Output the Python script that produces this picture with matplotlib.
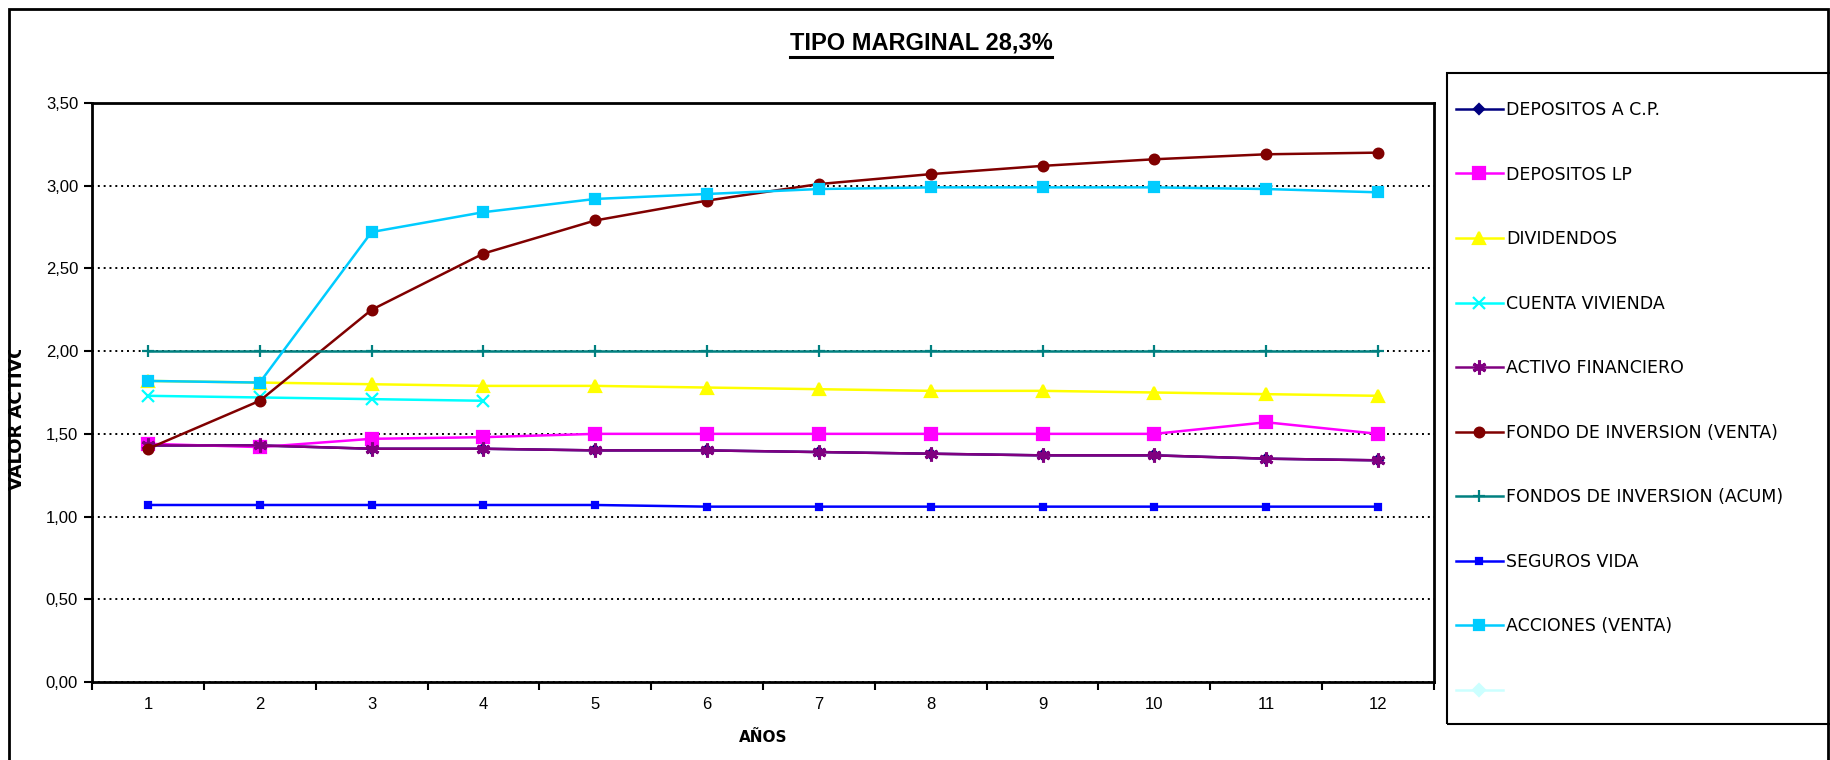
import matplotlib
matplotlib.use("Agg")
import matplotlib.pyplot as plt
from matplotlib.lines import Line2D
from matplotlib.patches import Rectangle
from matplotlib.transforms import Bbox

# -----------------------------
# Data
# -----------------------------
years = [1, 2, 3, 4, 5, 6, 7, 8, 9, 10, 11, 12]

depositos_cp = [1.43, 1.43, 1.41, 1.41, 1.40, 1.40, 1.39, 1.38, 1.37, 1.37, 1.35, 1.34]
depositos_lp = [1.44, 1.42, 1.47, 1.48, 1.50, 1.50, 1.50, 1.50, 1.50, 1.50, 1.57, 1.50]
dividendos = [1.82, 1.81, 1.80, 1.79, 1.79, 1.78, 1.77, 1.76, 1.76, 1.75, 1.74, 1.73]
cuenta_vivienda = [1.73, 1.72, 1.71, 1.70]
activo_financiero = [1.43, 1.43, 1.41, 1.41, 1.40, 1.40, 1.39, 1.38, 1.37, 1.37, 1.35, 1.34]
fondo_venta = [1.41, 1.70, 2.25, 2.59, 2.79, 2.91, 3.01, 3.07, 3.12, 3.16, 3.19, 3.20]
fondos_acum = [2.00, 2.00, 2.00, 2.00, 2.00, 2.00, 2.00, 2.00, 2.00, 2.00, 2.00, 2.00]
seguros_vida = [1.07, 1.07, 1.07, 1.07, 1.07, 1.06, 1.06, 1.06, 1.06, 1.06, 1.06, 1.06]
acciones_venta = [1.82, 1.81, 2.72, 2.84, 2.92, 2.95, 2.98, 2.99, 2.99, 2.99, 2.98, 2.96]
sin_nombre = []

labels = ["DEPOSITOS A C.P.", "DEPOSITOS LP", "DIVIDENDOS", "CUENTA VIVIENDA",
          "ACTIVO FINANCIERO", "FONDO DE INVERSION (VENTA)",
          "FONDOS DE INVERSION (ACUM)", "SEGUROS VIDA", "ACCIONES (VENTA)", " "]
values = [depositos_cp, depositos_lp, dividendos, cuenta_vivienda, activo_financiero,
          fondo_venta, fondos_acum, seguros_vida, acciones_venta, sin_nombre]

y_ticks = [0.0, 0.5, 1.0, 1.5, 2.0, 2.5, 3.0, 3.5]
y_tick_labels = ["0,00", "0,50", "1,00", "1,50", "2,00", "2,50", "3,00", "3,50"]

# -----------------------------
# Styles (Excel palette)
# -----------------------------
colors = ["#000080", "#FF00FF", "#FFFF00", "#00FFFF", "#800080",
          "#800000", "#008080", "#0000FF", "#00CCFF", "#CCFFFF"]
markers = ["D", "s", "^", "x", (6, 2, 0), "o", "+", "s", "s", "D"]
msizes = [5, 8, 8, 8, 10, 7, 8, 5, 7, 6]

narrow = ["Liberation Sans Narrow", "Liberation Sans", "DejaVu Sans"]

W, H = 1830, 760
fig = plt.figure(figsize=(W / 100, H / 100), dpi=100)

def fx(px):
    return px / W

def fy(py):
    return 1 - py / H

# axes area in pixels: left 92, right 1434, top 103, bottom 682
ax = fig.add_axes([fx(92), fy(682), fx(1434 - 92), (682 - 103) / H])

lines = []
for vals, lab, c, m, ms in zip(values, labels, colors, markers, msizes):
    xs = years[:len(vals)]
    mew = 2.2 if m == (6, 2, 0) else 1.6
    ln, = ax.plot(xs, vals, color=c, lw=1.8, marker=m, markersize=ms,
                  markerfacecolor=c, markeredgecolor=c, markeredgewidth=mew,
                  label=lab, clip_on=False)
    lines.append(ln)

ax.set_xlim(0.5, 12.5)
ax.set_ylim(0, 3.5)
ax.set_yticks(y_ticks)
ax.set_yticklabels(y_tick_labels, family=narrow, fontsize=12)
ax.set_xticks(years)
ax.set_xticklabels([str(y) for y in years], family=narrow, fontsize=12)
ax.set_xticks([y - 0.5 for y in years] + [12.5], minor=True)
ax.tick_params(axis="x", which="major", length=0, pad=11)
ax.tick_params(axis="x", which="minor", length=6, width=1.5, direction="out")
ax.tick_params(axis="y", length=6, width=1.5, direction="out", pad=4)

ax.grid(axis="y", color="black", linestyle=(0, (1, 2)), lw=1.4)
ax.set_axisbelow(True)
for sp in ax.spines.values():
    sp.set_color("black")
    sp.set_linewidth(2)

ax.set_xlabel("AÑOS", fontsize=11, fontweight="bold", labelpad=13)

# y label, cut at the top like in the original
ylab = fig.text(fx(17), fy(490), "VALOR ACTIVO", rotation=90, ha="center", va="bottom",
                fontsize=13, fontweight="bold")

# title with underline
title = fig.text(fx(921), fy(43), "TIPO MARGINAL 28,3%", ha="center", va="center",
                 family=["Liberation Sans Narrow", "Liberation Sans"],
                 fontsize=17, fontweight="bold")

# outer frame and legend frame
fig.patches.append(Rectangle((fx(9), -0.05), fx(1828 - 9), fy(9) + 0.05,
                             transform=fig.transFigure, fill=False,
                             edgecolor="black", lw=2))
fig.patches.append(Rectangle((fx(1447), fy(724)), fx(1840 - 1447), (724 - 73) / H,
                             transform=fig.transFigure, fill=False,
                             edgecolor="black", lw=1.5, clip_on=False))

fig.legend(lines, labels, loc="upper left", bbox_to_anchor=(fx(1456), fy(101)),
           frameon=False, fontsize=12.5, handlelength=2.7, handletextpad=0.2,
           labelspacing=2.68, borderaxespad=0, borderpad=0)

fig.canvas.draw()
r = fig.canvas.get_renderer()
tb = title.get_window_extent(r)
fig.add_artist(Line2D([tb.x0 / W, tb.x1 / W], [(tb.y0 - 2) / H, (tb.y0 - 2) / H],
                      transform=fig.transFigure, color="black", lw=2.2))
yb = ylab.get_window_extent(r)
ylab.set_clip_box(Bbox([[yb.x0 - 2, yb.y0 - 2], [yb.x1 + 2, yb.y1 - 0.05 * yb.height]]))
ylab.set_clip_on(True)

fig.savefig("out.png", dpi=100)
